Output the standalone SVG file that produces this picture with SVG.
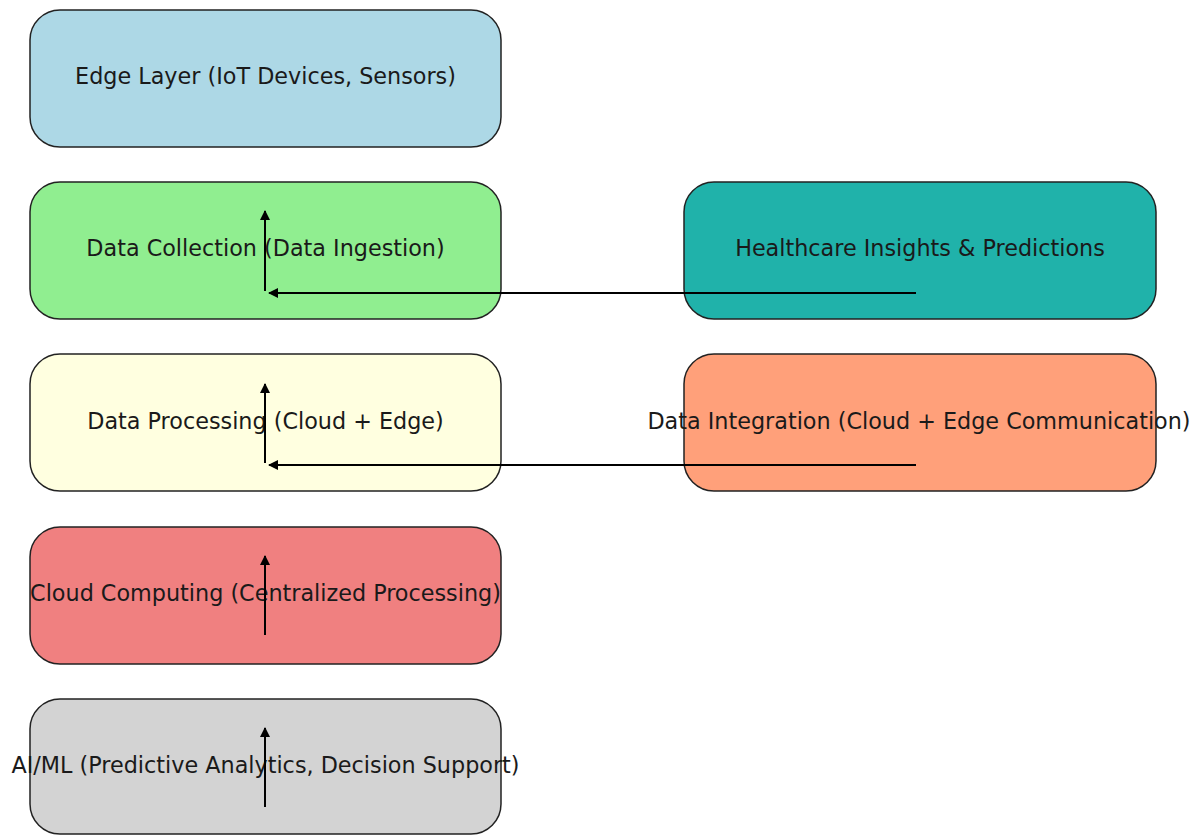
<svg xmlns="http://www.w3.org/2000/svg" width="1194" height="835" viewBox="0 0 1194 835">
  <style>
    .box { stroke: #222; stroke-width: 1.5; }
    .label { font-family: "DejaVu Sans", sans-serif; font-size: 22.3px; fill: #1a1a1a; text-anchor: middle; dominant-baseline: central; }
    .conn { stroke: #000; stroke-width: 2; fill: none; marker-end: url(#head); }
  </style>
  <defs>
    <marker id="head" viewBox="0 0 10 10" refX="9" refY="5" markerWidth="5" markerHeight="5" orient="auto" markerUnits="strokeWidth">
      <path d="M0,0 L10,5 L0,10 z" fill="#000"/>
    </marker>
  </defs>
  <rect width="1194" height="835" fill="#fff"/>

  <g id="edge-layer">
    <rect class="box" x="30" y="10" width="471" height="137" rx="30" fill="#ADD8E6"/>
    <text class="label" x="265.5" y="76">Edge Layer (IoT Devices, Sensors)</text>
  </g>
  <g id="data-collection">
    <rect class="box" x="30" y="182" width="471" height="137" rx="30" fill="#90EE90"/>
    <text class="label" x="265.5" y="248">Data Collection (Data Ingestion)</text>
  </g>
  <g id="data-processing">
    <rect class="box" x="30" y="354" width="471" height="137" rx="30" fill="#FFFFE0"/>
    <text class="label" x="265.5" y="421">Data Processing (Cloud + Edge)</text>
  </g>
  <g id="cloud-computing">
    <rect class="box" x="30" y="527" width="471" height="137" rx="30" fill="#F08080"/>
    <text class="label" x="265.5" y="593">Cloud Computing (Centralized Processing)</text>
  </g>
  <g id="ai-ml">
    <rect class="box" x="30" y="699" width="471" height="135" rx="30" fill="#D3D3D3"/>
    <text class="label" x="265.5" y="765">AI/ML (Predictive Analytics, Decision Support)</text>
  </g>
  <g id="healthcare-insights">
    <rect class="box" x="684" y="182" width="472" height="137" rx="30" fill="#20B2AA"/>
    <text class="label" x="920" y="248">Healthcare Insights &amp; Predictions</text>
  </g>
  <g id="data-integration">
    <rect class="box" x="684" y="354" width="472" height="137" rx="30" fill="#FFA07A"/>
    <text class="label" x="919" y="421">Data Integration (Cloud + Edge Communication)</text>
  </g>

  <g id="connectors">
    <line class="conn" x1="265" y1="291" x2="265" y2="211"/>
    <line class="conn" x1="265" y1="463" x2="265" y2="384"/>
    <line class="conn" x1="265" y1="635" x2="265" y2="556"/>
    <line class="conn" x1="265" y1="807" x2="265" y2="728"/>
    <line class="conn" x1="916" y1="293" x2="269" y2="293"/>
    <line class="conn" x1="916" y1="465" x2="269" y2="465"/>
  </g>
</svg>
